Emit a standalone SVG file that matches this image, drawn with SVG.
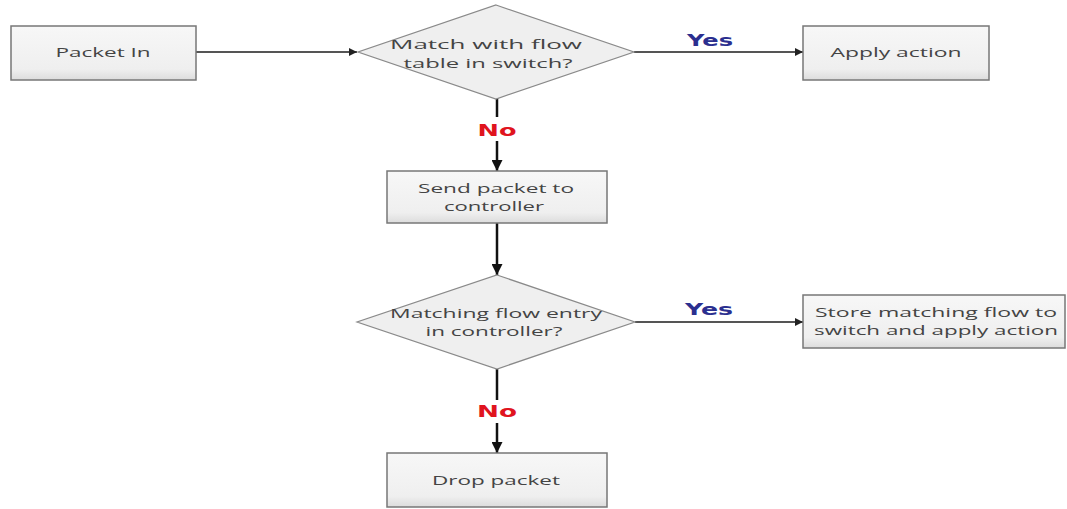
<svg xmlns="http://www.w3.org/2000/svg" width="1067" height="509" viewBox="0 0 1067 509">
<defs>
<linearGradient id="boxg" x1="0" y1="0" x2="0" y2="1">
<stop offset="0" stop-color="#f7f7f7"/>
<stop offset="0.8" stop-color="#efefef"/>
<stop offset="1" stop-color="#dcdcdc"/>
</linearGradient>
<marker id="ah" viewBox="0 0 10 10" refX="10" refY="5" markerWidth="9" markerHeight="8" markerUnits="userSpaceOnUse" orient="auto">
<path d="M0,0 L10,5 L0,10 z" fill="#222"/>
</marker>
<marker id="ahv" viewBox="0 0 10 10" refX="10" refY="5" markerWidth="11" markerHeight="11" markerUnits="userSpaceOnUse" orient="auto">
<path d="M0,0 L10,5 L0,10 z" fill="#111"/>
</marker>
</defs>
<style>
.box{fill:url(#boxg);stroke:#777;stroke-width:1.5}
.dia{fill:#efefef;stroke:#8a8a8a;stroke-width:1.2}
.t{font-family:"Open Sans","DejaVu Sans",sans-serif;font-size:13px;fill:#444;text-anchor:middle}
.yes{font-family:"DejaVu Sans",sans-serif;font-weight:bold;font-size:15px;fill:#2b2f8f;text-anchor:middle}
.no{font-family:"DejaVu Sans",sans-serif;font-weight:bold;font-size:15px;fill:#e0141e;text-anchor:middle}
.h{stroke:#555;stroke-width:2;fill:none}
.v{stroke:#111;stroke-width:2.5;fill:none}
</style>
<rect width="1067" height="509" fill="#fff"/>
<g id="connectors">
<line class="h" x1="196" y1="52" x2="357" y2="52" marker-end="url(#ah)"/>
<line class="h" x1="634" y1="52" x2="803" y2="52" marker-end="url(#ah)"/>
<line class="v" x1="497" y1="98" x2="497" y2="117"/>
<line class="v" x1="497" y1="141" x2="497" y2="171" marker-end="url(#ahv)"/>
<line class="v" x1="497" y1="223" x2="497" y2="275" marker-end="url(#ahv)"/>
<line class="h" x1="635" y1="322" x2="803" y2="322" marker-end="url(#ah)"/>
<line class="v" x1="497" y1="369" x2="497" y2="400"/>
<line class="v" x1="497" y1="423" x2="497" y2="453" marker-end="url(#ahv)"/>
<text class="yes" x="710" y="46" textLength="46" lengthAdjust="spacingAndGlyphs">Yes</text>
<text class="no" x="497" y="136" textLength="39" lengthAdjust="spacingAndGlyphs">No</text>
<text class="yes" x="709" y="315" textLength="48" lengthAdjust="spacingAndGlyphs">Yes</text>
<text class="no" x="497" y="417" textLength="40" lengthAdjust="spacingAndGlyphs">No</text>
</g>
<g id="packet-in">
<rect class="box" x="11" y="26" width="185" height="54"/>
<text class="t" x="103" y="57" textLength="95" lengthAdjust="spacingAndGlyphs">Packet In</text>
</g>
<g id="match-switch">
<polygon class="dia" points="496,5 634,52 496,99 358,52"/>
<text class="t" x="486" y="49" textLength="192" lengthAdjust="spacingAndGlyphs">Match with flow</text>
<text class="t" x="488" y="68" textLength="169" lengthAdjust="spacingAndGlyphs">table in switch?</text>
</g>
<g id="apply-action">
<rect class="box" x="803" y="26" width="186" height="54"/>
<text class="t" x="896" y="57" textLength="131" lengthAdjust="spacingAndGlyphs">Apply action</text>
</g>
<g id="send-controller">
<rect class="box" x="387" y="171" width="220" height="52"/>
<text class="t" x="496" y="193" textLength="156" lengthAdjust="spacingAndGlyphs">Send packet to</text>
<text class="t" x="494" y="211" textLength="100" lengthAdjust="spacingAndGlyphs">controller</text>
</g>
<g id="match-controller">
<polygon class="dia" points="497,275 635,322 497,369 357,322"/>
<text class="t" x="496" y="318" textLength="212" lengthAdjust="spacingAndGlyphs">Matching flow entry</text>
<text class="t" x="494" y="336" textLength="137" lengthAdjust="spacingAndGlyphs">in controller?</text>
</g>
<g id="store-flow">
<rect class="box" x="803" y="295" width="262" height="53"/>
<text class="t" x="936" y="317" textLength="242" lengthAdjust="spacingAndGlyphs">Store matching flow to</text>
<text class="t" x="936" y="335" textLength="244" lengthAdjust="spacingAndGlyphs">switch and apply action</text>
</g>
<g id="drop-packet">
<rect class="box" x="387" y="453" width="220" height="54"/>
<text class="t" x="496" y="485" textLength="128" lengthAdjust="spacingAndGlyphs">Drop packet</text>
</g>
</svg>
